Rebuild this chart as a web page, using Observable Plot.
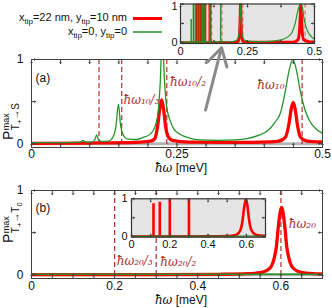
<!DOCTYPE html>
<html><head><meta charset="utf-8">
<script src="https://cdn.jsdelivr.net/npm/d3@7"></script>
<script src="https://cdn.jsdelivr.net/npm/@observablehq/plot@0.6"></script>
<style>
body{margin:0;background:#fff;}
#chart{position:relative;width:332px;height:308px;overflow:hidden;background:#fff;}
#chart svg{position:absolute;}
</style></head><body><div id="chart"></div>
<script>
// ---------- data ----------
const greenA = [[0,0.012],[0.04,0.013],[0.075,0.016],[0.084,0.02],[0.0885,0.04],[0.093,0.02],[0.104,0.022],[0.109,0.05],[0.112,0.105],[0.115,0.05],[0.12,0.028],[0.132,0.03],[0.14,0.08],[0.145,0.2],[0.1494,0.47],[0.153,0.22],[0.158,0.1],[0.165,0.055],[0.18,0.05],[0.19,0.07],[0.205,0.12],[0.213,0.22],[0.218,0.4],[0.221,0.7],[0.2249,1.3],[0.2285,0.75],[0.232,0.45],[0.238,0.28],[0.245,0.17],[0.256,0.11],[0.27,0.07],[0.29,0.045],[0.32,0.04],[0.35,0.045],[0.37,0.06],[0.39,0.1],[0.405,0.15],[0.418,0.25],[0.428,0.37],[0.436,0.62],[0.443,0.88],[0.449,1.0],[0.455,0.88],[0.462,0.62],[0.47,0.4],[0.478,0.27],[0.488,0.18],[0.5,0.125]];
const redA = [[0,0.005],[0.1,0.008],[0.18,0.015],[0.205,0.03],[0.212,0.06],[0.2165,0.2],[0.2205,0.42],[0.2236,0.52],[0.2267,0.42],[0.2306,0.2],[0.235,0.08],[0.242,0.04],[0.27,0.02],[0.35,0.015],[0.41,0.022],[0.425,0.03],[0.4365,0.08],[0.4425,0.24],[0.4465,0.42],[0.4497,0.49],[0.4528,0.42],[0.457,0.22],[0.462,0.08],[0.472,0.035],[0.5,0.02]];
const dashA = [0.116, 0.155, 0.2325, 0.465];       // ħω10/4, /3, /2, ħω10
const labelsA = [{x:0.158,y:0.52,t:"ħω₁₀/₃"},{x:0.238,y:0.73,t:"ħω₁₀/₂"},{x:0.388,y:0.69,t:"ħω₁₀"}];
const arrowA = [{x1:0.299,y1:0.40,x2:0.3265,y2:1.14}];
const xTicksA = [0,0.05,0.1,0.15,0.2,0.25,0.3,0.35,0.4,0.45,0.5];
const xLabelsA = [0,0.25,0.5];

const greenInsetA = [[0,0.02],[0.1,0.025],[0.19,0.03],[0.208,0.06],[0.216,0.15],[0.22,0.4],[0.224,1.05],[0.228,0.4],[0.232,0.15],[0.24,0.07],[0.26,0.04],[0.3,0.035],[0.335,0.04],[0.36,0.06],[0.385,0.1],[0.405,0.18],[0.416,0.27],[0.428,0.5],[0.435,0.74],[0.442,0.93],[0.449,1.0],[0.456,0.88],[0.46,0.66],[0.468,0.42],[0.479,0.24],[0.49,0.15],[0.5,0.1]];
const redInsetA = [[0,0.005],[0.2,0.01],[0.215,0.04],[0.22,0.2],[0.2225,0.6],[0.224,1.0],[0.2255,0.6],[0.228,0.2],[0.233,0.04],[0.25,0.015],[0.42,0.02],[0.438,0.08],[0.444,0.3],[0.447,0.7],[0.449,1.0],[0.451,0.7],[0.454,0.3],[0.46,0.08],[0.48,0.03],[0.5,0.02]];
const greenSpikeX = [0.040,0.048,0.055,0.063,0.071,0.081,0.091,0.110,0.150];
const greenSpikeH = [0.6,1,1,1,1,1,1,1,1];
const redSpikeX = [0.063,0.071,0.081,0.091,0.110];
const redSpikeH = [1,1,1,1,1];
const dashInsetA = [0.0775,0.093,0.116,0.155,0.2325,0.465];

const redB = [[0,0],[0.3,0],[0.45,0.005],[0.52,0.012],[0.55,0.025],[0.564,0.045],[0.577,0.1],[0.584,0.2],[0.589,0.33],[0.5935,0.56],[0.6017,0.8],[0.6096,0.56],[0.614,0.33],[0.619,0.2],[0.626,0.1],[0.64,0.04],[0.66,0.02],[0.7,0.01]];
const greenB = [[0,0.004],[0.7,0.004]];
const dashB = [0.2, 0.3, 0.6];                     // ħω20/3, /2, ħω20
const labelsB = [{x:0.205,y:0.16,t:"ħω₂₀/₃"},{x:0.31,y:0.15,t:"ħω₂₀/₂"},{x:0.619,y:0.6,t:"ħω₂₀"}];
const xTicksB = [0,0.05,0.1,0.15,0.2,0.25,0.3,0.35,0.4,0.45,0.5,0.55,0.6,0.65,0.7];
const xLabelsB = [0,0.2,0.4,0.6];

const redInsetB = [[0,0.003],[0.4,0.008],[0.5,0.015],[0.54,0.035],[0.56,0.1],[0.572,0.22],[0.58,0.42],[0.587,0.72],[0.598,1.0],[0.608,0.72],[0.615,0.42],[0.623,0.22],[0.636,0.1],[0.655,0.04],[0.7,0.02]];
const redSpikeBX = [0.115,0.148,0.2,0.3];
const redSpikeBH = [0.87,0.91,1,1];
const greenInsetB = [[0,0.005],[0.7,0.005]];
const xTicksIB = [0,0.1,0.2,0.3,0.4,0.5,0.6,0.7];
const xLabelsIB = [0,0.2,0.4,0.6];
const xTicksIA = [0,0.125,0.25,0.375,0.5];
const xLabelsIA = [0,0.25,0.5];

const yTicks = [0,0.5,1];
const yLabels = [0,1];

// ---------- style ----------
const SANS = "'Liberation Sans', Arial, sans-serif";
const SERIF = "'DejaVu Serif', serif";
const RED = "#ff0000", GREEN = "#22952a", DASH = "#b03030", ANN = "#a83232", FRAME = "#404040";
const fmt = d => String(d);
const pts = a => a.map(([x,y]) => ({x,y}));

function inTicks(xt, yt, len) {
  const o = {stroke: FRAME, strokeWidth: 1, length: len, anchor: "start"};
  return [
    Plot.vectorX(xt, {x: d => d, frameAnchor: "bottom", rotate: 0, ...o}),
    Plot.vectorX(xt, {x: d => d, frameAnchor: "top", rotate: 180, ...o}),
    Plot.vectorY(yt, {y: d => d, frameAnchor: "left", rotate: 90, ...o}),
    Plot.vectorY(yt, {y: d => d, frameAnchor: "right", rotate: -90, ...o})
  ];
}
function place(svg, left, top) {
  svg.style.left = left + "px"; svg.style.top = top + "px";
  document.getElementById("chart").appendChild(svg);
}

// ---------- panel (a) ----------
const plotA = Plot.plot({
  width: 332, height: 175, marginLeft: 31, marginRight: 10, marginTop: 59, marginBottom: 28,
  x: {domain: [0, 0.5]}, y: {domain: [-0.045, 1]},
  style: {fontFamily: SANS, fontSize: "12px", background: "transparent", overflow: "visible", color: "#111"},
  marks: [
    Plot.ruleY([0], {stroke: "#b4b4b4", strokeWidth: 3}),
    Plot.ruleX(dashA, {x: d => d, stroke: DASH, strokeWidth: 1.2, strokeDasharray: "5,3"}),
    Plot.line(pts(redA), {x: "x", y: "y", stroke: RED, strokeWidth: 3.3, curve: "monotone-x", clip: true}),
    Plot.line(pts(greenA), {x: "x", y: "y", stroke: GREEN, strokeWidth: 1.3, curve: "monotone-x", clip: true}),
    Plot.text(labelsA, {x: "x", y: "y", text: "t", textAnchor: "start", fill: ANN, fontFamily: SERIF, fontStyle: "italic", fontSize: 12}),
    Plot.text(["(a)"], {frameAnchor: "top-left", dx: 4, dy: 14, textAnchor: "start", fontSize: 12}),
    Plot.frame({stroke: FRAME}),
    ...inTicks(xTicksA, yTicks, 4),
    Plot.axisX({ticks: xLabelsA, tickSize: 0, tickPadding: 2, tickFormat: fmt, label: null}),
    Plot.axisY({ticks: yLabels, tickSize: 0, tickPadding: 8, tickFormat: fmt, label: null}),
    Plot.arrow(arrowA, {x1: "x1", y1: "y1", x2: "x2", y2: "y2", stroke: "#8a8a8a", strokeWidth: 3, headLength: 10})
  ]
});
place(plotA, 0, 0);

// ---------- panel (b) ----------
const plotB = Plot.plot({
  width: 332, height: 178, marginLeft: 31, marginRight: 10, marginTop: 60, marginBottom: 30,
  x: {domain: [0, 0.7]}, y: {domain: [-0.045, 1]},
  style: {fontFamily: SANS, fontSize: "12px", background: "transparent", overflow: "visible", color: "#111"},
  marks: [
    Plot.ruleY([0], {stroke: "#b4b4b4", strokeWidth: 3}),
    Plot.ruleX(dashB, {x: d => d, stroke: DASH, strokeWidth: 1.2, strokeDasharray: "5,3"}),
    Plot.line(pts(redB), {x: "x", y: "y", stroke: RED, strokeWidth: 3.3, curve: "monotone-x", clip: true}),
    Plot.line(pts(greenB), {x: "x", y: "y", stroke: GREEN, strokeWidth: 1.5, clip: true}),
    Plot.text(labelsB, {x: "x", y: "y", text: "t", textAnchor: "start", fill: ANN, fontFamily: SERIF, fontStyle: "italic", fontSize: 12}),
    Plot.text(["(b)"], {frameAnchor: "top-left", dx: 4, dy: 13, textAnchor: "start", fontSize: 12}),
    Plot.frame({stroke: FRAME}),
    ...inTicks(xTicksB, yTicks, 4),
    Plot.axisX({ticks: xLabelsB, tickSize: 0, tickPadding: 3, tickFormat: fmt, label: null}),
    Plot.axisY({ticks: yLabels, tickSize: 0, tickPadding: 8, tickFormat: fmt, label: null})
  ]
});
place(plotB, 0, 130);

// ---------- inset (a) ----------
const insetA = Plot.plot({
  width: 172, height: 60, marginLeft: 20, marginRight: 18, marginTop: 3.5, marginBottom: 17,
  x: {domain: [0, 0.5]}, y: {domain: [-0.015, 1]},
  style: {fontFamily: SANS, fontSize: "11px", background: "transparent", overflow: "visible", color: "#111"},
  marks: [
    Plot.frame({fill: "#e5e5e5"}),
    Plot.ruleX(dashInsetA, {x: d => d, stroke: "#d07070", strokeWidth: 1.2, strokeDasharray: "4,3"}),
    Plot.ruleX(redSpikeX.map((x, i) => ({x, h: redSpikeH[i]})), {x: "x", y1: 0, y2: "h", stroke: RED, strokeWidth: 3, clip: true}),
    Plot.line(pts(redInsetA), {x: "x", y: "y", stroke: RED, strokeWidth: 3, curve: "monotone-x", clip: true}),
    Plot.ruleX(greenSpikeX.map((x, i) => ({x, h: greenSpikeH[i]})), {x: "x", y1: 0, y2: "h", stroke: GREEN, strokeWidth: 1.5, clip: true}),
    Plot.line(pts(greenInsetA), {x: "x", y: "y", stroke: GREEN, strokeWidth: 1.2, curve: "monotone-x", clip: true}),
    Plot.frame({stroke: "#333", strokeWidth: 1.2}),
    ...inTicks(xTicksIA, yTicks, 3),
    Plot.axisX({ticks: xLabelsIA, tickSize: 0, tickPadding: 4, tickFormat: fmt, label: null}),
    Plot.axisY({ticks: [0], tickSize: 0, tickPadding: 3, tickFormat: fmt, label: null}),
    Plot.axisY({ticks: [1], tickSize: 0, tickPadding: 3, dy: 2, tickFormat: fmt, label: null})
  ]
});
place(insetA, 160, 0);

// ---------- inset (b) ----------
const insetB = Plot.plot({
  width: 222, height: 62, marginLeft: 21, marginRight: 67, marginTop: 8.3, marginBottom: 15.3,
  x: {domain: [0, 0.7]}, y: {domain: [-0.015, 1]},
  style: {fontFamily: SANS, fontSize: "11px", background: "transparent", overflow: "visible", color: "#111"},
  marks: [
    Plot.frame({fill: "#e5e5e5"}),
    Plot.ruleX(redSpikeBX.map((x, i) => ({x, h: redSpikeBH[i]})), {x: "x", y1: 0, y2: "h", stroke: RED, strokeWidth: 2.6, clip: true}),
    Plot.line(pts(redInsetB), {x: "x", y: "y", stroke: RED, strokeWidth: 2.6, curve: "monotone-x", clip: true}),
    Plot.line(pts(greenInsetB), {x: "x", y: "y", stroke: "#1f7f22", strokeWidth: 2, clip: true}),
    Plot.frame({stroke: "#333", strokeWidth: 1.2}),
    ...inTicks(xTicksIB, yTicks, 3),
    Plot.axisX({ticks: xLabelsIB, tickSize: 0, tickPadding: 3, tickFormat: fmt, label: null}),
    Plot.axisY({ticks: yLabels, tickSize: 0, tickPadding: 4, tickFormat: fmt, label: null})
  ]
});
place(insetB, 110, 190);

// ---------- overlay texts: legend, axis titles ----------
const ov = d3.select("#chart").append("svg").attr("width", 332).attr("height", 308)
  .style("left", "0px").style("top", "0px").style("font-family", SANS).style("overflow", "visible");

function richText(parent, x, y, parts, size, anchor) {
  const t = parent.append("text").attr("x", x).attr("y", y).attr("font-size", size).attr("text-anchor", anchor || "start").attr("fill", "#111");
  let cur = 0;
  for (const [s, off, fs, fam, sty] of parts) {
    const d = off - cur; cur = off;
    const sp = t.append("tspan").attr("dy", d).attr("font-size", fs || size).text(s);
    if (fam) sp.attr("font-family", fam);
    if (sty) sp.attr("font-style", sty);
  }
  return t;
}
// legend
richText(ov, 127, 21, [["x",0],["tip",3,8],["=22 nm, y",0],["tip",3,8],["=10 nm",0]], 11, "end");
richText(ov, 127, 35, [["x",0],["tip",3,8],["=0, y",0],["tip",3,8],["=0",0]], 11, "end");
ov.append("line").attr("x1", 133).attr("x2", 162).attr("y1", 18.5).attr("y2", 18.5).attr("stroke", RED).attr("stroke-width", 3);
ov.append("line").attr("x1", 133).attr("x2", 162).attr("y1", 32).attr("y2", 32).attr("stroke", GREEN).attr("stroke-width", 1.5);

// x axis titles
richText(ov, 181, 172, [["ħω",0,12,SERIF,"italic"],[" [meV]",0]], 12, "middle");
richText(ov, 181, 304, [["ħω",0,12,SERIF,"italic"],[" [meV]",0]], 12, "middle");

// y axis titles
function yTitle(bx, by, subParts) {
  const g = ov.append("g").attr("transform", `translate(${bx},${by}) rotate(-90)`);
  const p = g.append("text").attr("font-size", 14).attr("fill", "#111").text("P");
  const w = p.node().getComputedTextLength();
  g.append("text").attr("x", w + 0.5).attr("y", -4).attr("font-size", 9).attr("fill", "#111").text("max");
  richText(g, w + 0.5, 6.5, subParts, 10, "start");
}
yTitle(12.5, 140, [["T",0],["+",2.5,7.5],["→S",0]]);
yTitle(12.5, 243, [["T",0],["+",2.5,7.5],["→T",0],["0",2.5,7.5]]);
</script></body></html>
